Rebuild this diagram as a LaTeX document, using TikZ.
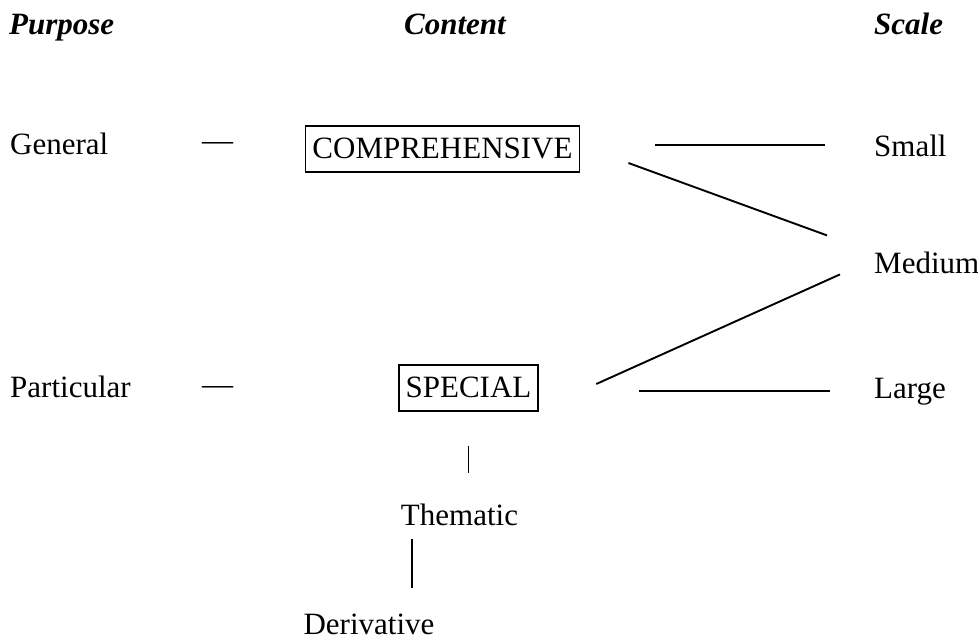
\documentclass[tikz,border=0pt]{standalone}
\usepackage{fontspec}
\setmainfont{Liberation Serif}
\usetikzlibrary{calc}

\begin{document}
\begin{tikzpicture}[
    x=1pt, y=-1pt,
    every node/.style={font=\fontsize{31}{36}\selectfont, inner sep=2pt},
    head/.style={font=\fontsize{31}{36}\selectfont\bfseries\itshape, anchor=base west},
    term/.style={anchor=base west},
    box/.style={draw, line width=1.8pt, inner xsep=7pt, inner ysep=11pt,
                text height=21pt, text depth=3pt, anchor=base},
    link/.style={line width=1.9pt}
  ]
    \useasboundingbox (0,0) rectangle (978,641);
    % column heads
    \node[head] (purpose) at (7,34) {Purpose};
    \node[head] (content) at (402,34) {Content};
    \node[head] (scale) at (872,34) {Scale};
    % purpose
    \node[term] (general) at (8,154) {General};
    \node[term] (particular) at (8,397) {Particular};
    \node (dgen) at (217.5,146) {---};
    \node (dpart) at (217.5,390) {---};
    % content
    \node[box] (comp) at (442.5,158) {COMPREHENSIVE};
    \node[box] (special) at (468.5,397) {SPECIAL};
    \node[anchor=base] (thematic) at (459.5,525) {Thematic};
    \node[anchor=base] (deriv) at (369,634) {Derivative};
    % scale
    \node[term] (small) at (872,156) {Small};
    \node[term] (medium) at (872,273) {Medium};
    \node[term] (large) at (872,398) {Large};
    % links
    \draw[link, shorten <=75pt, shorten >=47pt] (comp.east |- small.west) -- (small.west);
    \draw[link] ($(comp.east)+(48,14)$) -- ($(medium.west)+(-45,-27)$);
    \draw[link] ($(special.east)+(57,-4)$) -- ($(medium.west)+(-32,12)$);
    \draw[link, shorten <=100pt, shorten >=42pt] (special.east |- large.west) -- (large.west);
    \draw[link, shorten <=34pt, shorten >=28pt] (special.south) -- (special.south |- thematic.north);
    \draw[link] ($(thematic.south)+(-47.5,11)$) -- ($(deriv.north)+(43,-23)$);
\end{tikzpicture}
\end{document}
